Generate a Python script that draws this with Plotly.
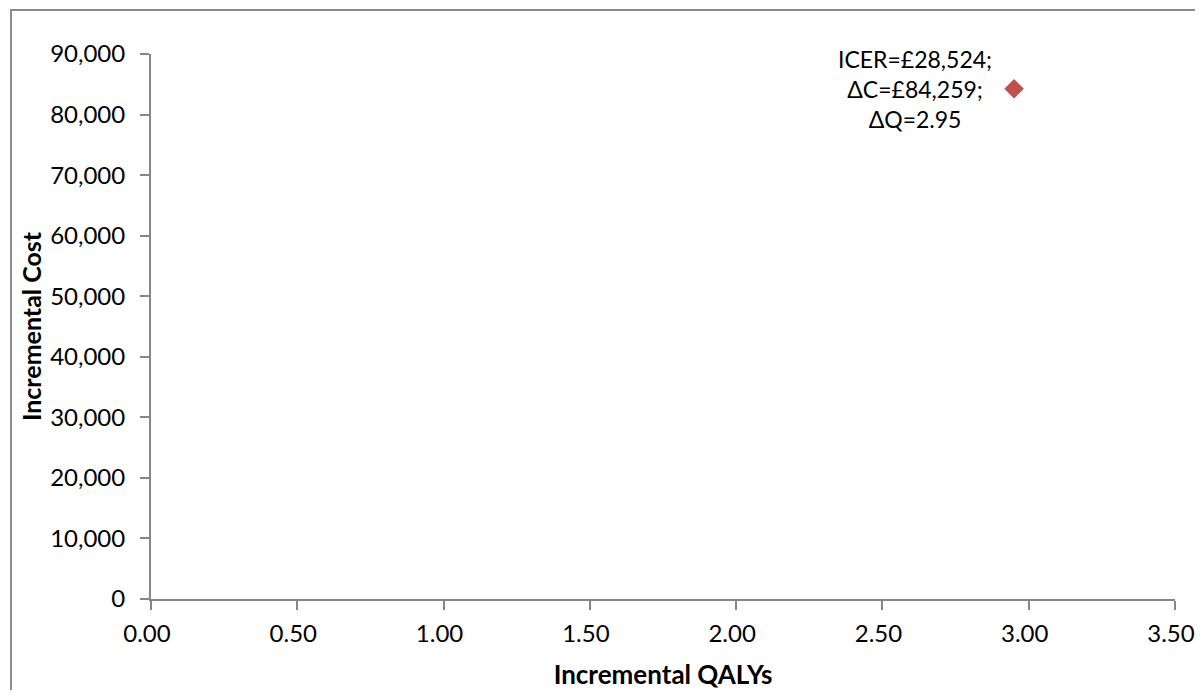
import plotly.graph_objects as go

# Data
delta_qaly = [2.95]
delta_cost = [84259]
point_label = "ICER=£28,524;<br>ΔC=£84,259;<br>ΔQ=2.95"

x_ticks = [0, 0.5, 1.0, 1.5, 2.0, 2.5, 3.0, 3.5]
y_ticks = [0, 10000, 20000, 30000, 40000, 50000, 60000, 70000, 80000, 90000]

FONT = "Lato"
AXIS_COLOR = "#868686"

fig = go.Figure()
fig.add_trace(go.Scatter(
    x=delta_qaly, y=delta_cost, mode="markers",
    marker=dict(symbol="diamond", size=15, color="#C0504D"),
    showlegend=False, hoverinfo="skip",
))

fig.add_annotation(
    x=delta_qaly[0], y=delta_cost[0], xref="x", yref="y",
    text=point_label, showarrow=False, align="center",
    xanchor="right", yanchor="middle", xshift=-20, yshift=0,
    font=dict(family=FONT, size=23, color="#000000"),
)

# page has an 8px body margin, so figure pixels = page pixels - 8;
# keep the figure small enough that the page never needs scrollbars
W, H = 1187, 682
L, R, T, B = 143, 20, 46, 91
pw, ph = W - L - R, H - T - B

def px_x(p):
    return (p - L) / pw

def px_y(p):
    return (H - B - p) / ph

fig.add_shape(type="rect", xref="paper", yref="paper",
              x0=px_x(3), x1=px_x(1200), y0=px_y(700), y1=px_y(2),
              line=dict(color="#8C8C8C", width=2), layer="below")

fig.update_layout(
    width=W, height=H,
    margin=dict(l=L, r=R, t=T, b=B, autoexpand=False),
    paper_bgcolor="white", plot_bgcolor="white",
    font=dict(family=FONT, size=24, color="#000000"),
    xaxis=dict(
        range=[0, 3.5], tickvals=x_ticks, tickformat=".2f", automargin=False,
        showgrid=False, zeroline=False, showline=True, linecolor=AXIS_COLOR, linewidth=2,
        ticks="outside", ticklen=9, tickwidth=2, tickcolor=AXIS_COLOR,
        ticklabelstandoff=3, ticklabelshift=-4, ticklabeloverflow="allow",
        title=dict(text="<b>Incremental QALYs</b>", font=dict(family=FONT, size=26), standoff=22),
        tickfont=dict(family=FONT, size=24),
    ),
    yaxis=dict(
        range=[0, 90000], tickvals=y_ticks, tickformat=",", automargin=False,
        showgrid=False, zeroline=False, showline=True, linecolor=AXIS_COLOR, linewidth=2,
        ticks="outside", ticklen=9, tickwidth=2, tickcolor=AXIS_COLOR,
        ticklabelstandoff=10,
        title=dict(text="<b>Incremental Cost</b>", font=dict(family=FONT, size=25), standoff=1),
        tickfont=dict(family=FONT, size=24),
    ),
)

fig.write_html("out.html")
